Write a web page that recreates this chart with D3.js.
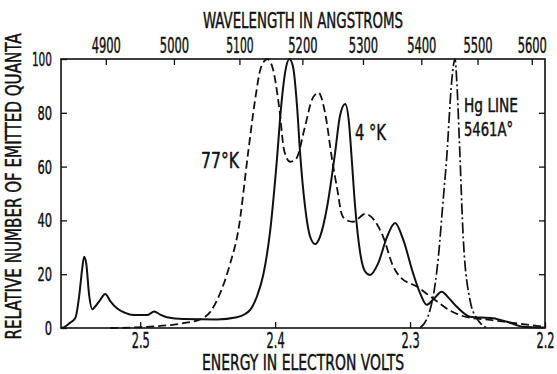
<!DOCTYPE html>
<html>
<head>
<meta charset="utf-8">
<script src="https://cdn.jsdelivr.net/npm/d3@7"></script>
<style>
  body { margin: 0; background: #fff; }
  text { font-family: "DejaVu Sans Condensed", "DejaVu Sans", sans-serif; fill: #111; stroke: #111; stroke-width: 0.45px; }
</style>
</head>
<body>
<div id="chart"></div>
<script>
// tick values
const energyTicks = [2.5, 2.4, 2.3, 2.2];
const wavelengthTicks = [4900, 5000, 5100, 5200, 5300, 5400, 5500, 5600];
const quantaTicks = [0, 20, 40, 60, 80, 100];
const hc = 12375; // eV*A, as used for the top scale

// [energy eV, relative quanta]
const curve4K = [
  [2.5585, 0], [2.5556, 0.5], [2.5519, 2], [2.5481, 3.7], [2.5452, 12], [2.543, 22],
  [2.5415, 26.5], [2.54, 24], [2.5378, 12], [2.5356, 7], [2.5333, 8], [2.5296, 10.5],
  [2.5259, 12.6], [2.5222, 10], [2.5173, 7.3], [2.5111, 5.6], [2.5052, 4.8], [2.495, 4.8],
  [2.4896, 6.1], [2.4852, 5], [2.4802, 4], [2.4681, 3.3], [2.4432, 3.2], [2.4284, 4],
  [2.4222, 5.2], [2.4185, 6.7], [2.4133, 12], [2.4087, 20], [2.4037, 36], [2.3987, 62.5],
  [2.3956, 82], [2.3926, 95], [2.3894, 100], [2.3867, 97], [2.3837, 82], [2.3815, 65],
  [2.3778, 45], [2.3741, 34], [2.3704, 31.2], [2.3667, 34], [2.3615, 45], [2.3556, 65],
  [2.3519, 79], [2.3481, 83.3], [2.3452, 76], [2.3432, 62.5], [2.3407, 45], [2.337, 28],
  [2.3333, 21], [2.3296, 19.7], [2.3237, 24], [2.317, 34], [2.3111, 39], [2.3052, 33],
  [2.2978, 20.4], [2.2926, 13], [2.2876, 8.6], [2.283, 10.5], [2.2765, 13.5], [2.2711, 11],
  [2.2654, 7.9], [2.2556, 4.2], [2.2385, 3.6], [2.2281, 2.3], [2.2163, 0.5], [2.2, 0.2]
];

const curve77K = [
  [2.5222, 0], [2.4926, 0.5], [2.4681, 1.8], [2.4556, 3.2], [2.4481, 6], [2.4407, 13],
  [2.4333, 24], [2.4274, 36], [2.4198, 66], [2.4148, 85], [2.4104, 97], [2.4057, 100],
  [2.4015, 96], [2.397, 82], [2.3933, 66], [2.3889, 61.8], [2.3844, 63], [2.3778, 75],
  [2.3726, 85], [2.3679, 87.5], [2.363, 80], [2.3576, 62], [2.3541, 52], [2.3504, 42],
  [2.3467, 40], [2.3422, 39.5], [2.3333, 42.4], [2.32, 34], [2.3126, 23], [2.3074, 19],
  [2.295, 15.4], [2.283, 11], [2.2704, 6.5], [2.2578, 4], [2.2407, 3], [2.2237, 1.9],
  [2.2015, 0.5]
];

const curveHg = [
  [2.2926, 0], [2.2852, 6.7], [2.2815, 16], [2.279, 26.5], [2.2759, 45], [2.2728, 63.7],
  [2.2691, 92], [2.2667, 100], [2.2652, 90], [2.2635, 70], [2.2605, 32.7], [2.2556, 10.4],
  [2.2511, 4], [2.2481, 1.9], [2.2432, 0]
];

const margin = { top: 59, right: 12, bottom: 46, left: 61 };
const W = 557, H = 374;
const width = W - margin.left - margin.right;
const height = H - margin.top - margin.bottom;

// rough glyph widths so the narrow lettering can be squeezed with textLength
const glyphW = ch => ch === '.' ? 3.5 : ch === ' ' ? 5 : ch === '°' ? 5 : ch === '1' ? 5.5 : (ch === 'I') ? 4 : 7.3;
const textLen = s => d3.sum(String(s).split(''), glyphW);

const svg = d3.select('#chart')
  .append('svg')
  .attr('width', W)
  .attr('height', H)
  .append('g')
  .attr('transform', `translate(${margin.left},${margin.top})`);

const x = d3.scaleLinear().domain([2.5587, 2.2]).range([0, width]);
const y = d3.scaleLinear().domain([0, 100]).range([height, 0]);

function styleAxis(g, size) {
  g.select('.domain').remove();
  g.selectAll('.tick line').attr('stroke', '#111').attr('stroke-width', 1.3);
  g.selectAll('.tick text')
    .attr('font-size', size)
    .attr('font-family', null)
    .attr('lengthAdjust', 'spacingAndGlyphs')
    .attr('textLength', function () { return textLen(this.textContent); });
}

// bottom axis
svg.append('g')
  .attr('transform', `translate(0,${height})`)
  .call(d3.axisBottom(x).tickValues(energyTicks).tickFormat(d3.format('.1f'))
    .tickSizeInner(-6).tickSizeOuter(0).tickPadding(4))
  .call(g => styleAxis(g, 22));

// top axis, wavelength
svg.append('g')
  .call(d3.axisTop(x).tickValues(wavelengthTicks.map(w => hc / w))
    .tickFormat((d, i) => wavelengthTicks[i])
    .tickSizeInner(-6).tickSizeOuter(0).tickPadding(6))
  .call(g => styleAxis(g, 21));

// left axis
svg.append('g')
  .call(d3.axisLeft(y).tickValues(quantaTicks)
    .tickSizeInner(-6).tickSizeOuter(0).tickPadding(9))
  .call(g => styleAxis(g, 20));

// right axis, ticks only
svg.append('g')
  .attr('transform', `translate(${width},0)`)
  .call(d3.axisRight(y).tickValues([20, 40, 60, 80]).tickFormat('')
    .tickSizeInner(-6).tickSizeOuter(0))
  .call(g => styleAxis(g, 20));

// frame
svg.append('rect')
  .attr('width', width)
  .attr('height', height)
  .attr('fill', 'none')
  .attr('stroke', '#111')
  .attr('stroke-width', 1.6);

const line = d3.line()
  .x(d => x(d[0]))
  .y(d => y(d[1]))
  .curve(d3.curveMonotoneX);

svg.append('path')
  .datum(curve77K)
  .attr('d', line)
  .attr('fill', 'none')
  .attr('stroke', '#111')
  .attr('stroke-width', 1.8)
  .attr('stroke-dasharray', '8,4');

svg.append('path')
  .datum(curveHg)
  .attr('d', line)
  .attr('fill', 'none')
  .attr('stroke', '#111')
  .attr('stroke-width', 1.7)
  .attr('stroke-dasharray', '11,3,2,3');

svg.append('path')
  .datum(curve4K)
  .attr('d', line)
  .attr('fill', 'none')
  .attr('stroke', '#111')
  .attr('stroke-width', 2);

// titles
const root = d3.select('#chart svg');
const cx = margin.left + width / 2;

root.append('text')
  .attr('x', cx).attr('y', 28)
  .attr('text-anchor', 'middle')
  .attr('font-size', 21)
  .attr('textLength', 200).attr('lengthAdjust', 'spacingAndGlyphs')
  .text('WAVELENGTH IN ANGSTROMS');

root.append('text')
  .attr('x', cx).attr('y', 370)
  .attr('text-anchor', 'middle')
  .attr('font-size', 21)
  .attr('textLength', 202).attr('lengthAdjust', 'spacingAndGlyphs')
  .text('ENERGY IN ELECTRON VOLTS');

root.append('text')
  .attr('transform', `translate(21,${margin.top + height / 2 - 7}) rotate(-90)`)
  .attr('text-anchor', 'middle')
  .attr('font-size', 21)
  .attr('textLength', 306).attr('lengthAdjust', 'spacingAndGlyphs')
  .text('RELATIVE NUMBER OF EMITTED QUANTA');

// curve labels
const notes = [
  { t: '77°K', x: 201, y: 168, s: 21, w: 38 },
  { t: '4 °K', x: 355, y: 140, s: 22, w: 31 },
  { t: 'Hg LINE', x: 464, y: 112, s: 19, w: 54 },
  { t: '5461A°', x: 464, y: 136, s: 19, w: 49 }
];
root.selectAll('.note')
  .data(notes)
  .enter()
  .append('text')
  .attr('class', 'note')
  .attr('x', d => d.x)
  .attr('y', d => d.y)
  .attr('font-size', d => d.s)
  .attr('textLength', d => d.w)
  .attr('lengthAdjust', 'spacingAndGlyphs')
  .text(d => d.t);
</script>
</body>
</html>
